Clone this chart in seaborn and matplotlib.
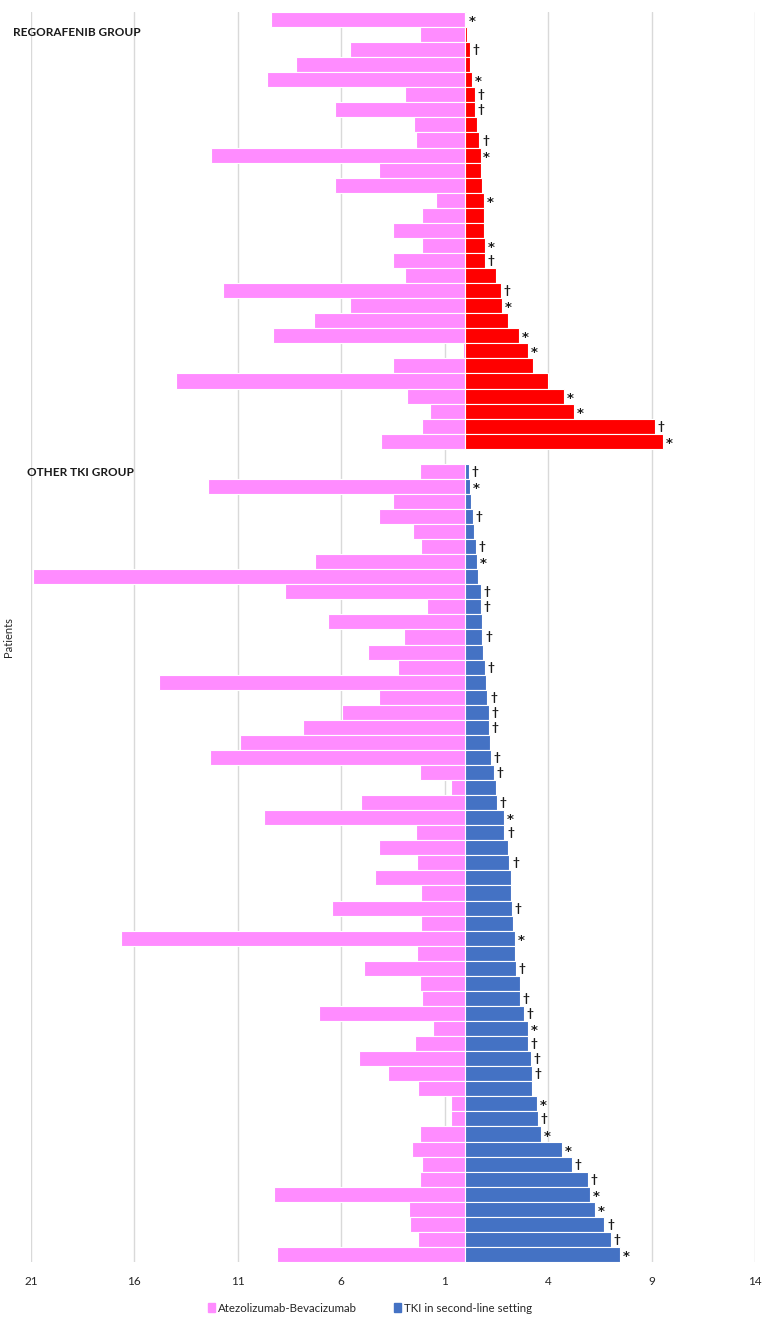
import matplotlib
matplotlib.use('Agg')
import pandas as pd
import matplotlib.pyplot as plt
import seaborn as sns
from matplotlib.patches import Patch

# Months on each treatment (one entry per patient, top to bottom)
rego_atezo = [9.4, 2.2, 5.6, 8.2, 9.6, 2.9, 6.3, 2.5, 2.4, 12.3, 4.2, 6.3, 1.4, 2.1, 3.5,
              2.1, 3.5, 2.9, 11.7, 5.6, 7.3, 9.3, 0.1, 3.5, 14.0, 2.8, 1.7, 2.1, 4.1]
rego_tki = [0.03, 0.1, 0.23, 0.23, 0.32, 0.44, 0.47, 0.58, 0.68, 0.73, 0.73, 0.8, 0.92, 0.92, 0.92,
            0.94, 0.94, 1.48, 1.72, 1.79, 2.05, 2.6, 3.02, 3.28, 3.97, 4.75, 5.27, 9.15, 9.53]
rego_mark = ['*', '', '†', '', '*', '†', '†', '', '†', '*', '', '', '*', '', '',
             '*', '†', '', '†', '*', '', '*', '*', '', '', '*', '*', '†', '*']

other_atezo = [2.2, 12.45, 3.5, 4.2, 2.55, 2.15, 7.25, 20.9, 8.7, 1.85, 6.65, 2.95, 4.7, 3.25,
               14.8, 4.2, 5.95, 7.85, 10.9, 12.35, 2.2, 0.7, 5.05, 9.75, 2.4, 4.2, 2.35, 4.35,
               2.15, 6.45, 2.15, 16.65, 2.35, 4.9, 2.2, 2.1, 7.1, 1.55, 2.45, 5.15, 3.75, 2.3,
               0.7, 0.7, 2.2, 2.6, 2.1, 2.2, 9.25, 2.75, 2.7, 2.3, 9.1]
other_tki = [0.16, 0.21, 0.28, 0.37, 0.4, 0.51, 0.54, 0.63, 0.73, 0.75, 0.78, 0.82, 0.87, 0.94,
             0.99, 1.06, 1.15, 1.15, 1.2, 1.22, 1.39, 1.46, 1.53, 1.89, 1.89, 2.05, 2.12, 2.2,
             2.2, 2.24, 2.31, 2.38, 2.41, 2.45, 2.64, 2.64, 2.83, 3.02, 3.02, 3.16, 3.21, 3.21,
             3.45, 3.5, 3.64, 4.66, 5.15, 5.93, 6.0, 6.27, 6.72, 7.05, 7.45]
other_mark = ['†', '*', '', '†', '', '†', '*', '', '†', '†', '', '†', '', '†',
              '', '†', '†', '†', '', '†', '†', '', '†', '*', '†', '', '†', '',
              '', '†', '', '*', '', '†', '', '†', '†', '*', '†', '†', '†', '',
              '*', '†', '*', '*', '†', '†', '*', '*', '†', '†', '*']

xticks = [-21, -16, -11, -6, -1, 4, 9, 14]

PINK = '#FF8CFF'
RED = '#FF0000'
BLUE = '#4472C4'

rego_ids = [f'R{i}' for i in range(len(rego_tki))]
other_ids = [f'O{i}' for i in range(len(other_tki))]
order = rego_ids + ['gap'] + other_ids

df = pd.DataFrame({
    'patient': rego_ids + other_ids,
    'atezo': [-v for v in rego_atezo + other_atezo],
    'tki': rego_tki + other_tki,
    'group': ['Regorafenib'] * len(rego_ids) + ['Other TKI'] * len(other_ids),
    'mark': rego_mark + other_mark,
})

sns.set_style('white')
plt.rcParams['font.family'] = ['Lato', 'DejaVu Sans']

fig = plt.figure(figsize=(7.69, 13.22), dpi=100)
ax = fig.add_axes([31 / 769, 1 - 1262 / 1322, 724 / 769, 1250 / 1322])

# Atezolizumab-Bevacizumab bars (left side)
sns.barplot(data=df, x='atezo', y='patient', order=order, color=PINK, saturation=1,
            width=1, edgecolor='white', linewidth=0.8, errorbar=None, orient='h', ax=ax)
# second-line TKI bars (right side)
sns.barplot(data=df, x='tki', y='patient', order=order, hue='group',
            palette={'Regorafenib': RED, 'Other TKI': BLUE}, dodge=False, saturation=1,
            width=1, edgecolor='white', linewidth=0.8, errorbar=None, orient='h',
            legend=False, ax=ax)

# markers after the TKI bars
for _, row in df.iterrows():
    if row['mark'] == '*':
        ax.annotate('*', xy=(row['tki'], order.index(row['patient'])),
                    xytext=(2, -1.5), textcoords='offset points', ha='left', va='center',
                    fontsize=9.5, fontweight='bold', family='DejaVu Sans', color='#1a1a1a')
    elif row['mark']:
        ax.annotate(row['mark'], xy=(row['tki'], order.index(row['patient'])),
                    xytext=(2, 0), textcoords='offset points', ha='left', va='center',
                    fontsize=8.5, fontweight='bold', color='#1a1a1a')

ax.set_xlim(-21, 14)
ax.set_ylim(len(order) - 0.5, -0.5)
ax.set_xticks(xticks)
ax.set_xticklabels([str(abs(t)) for t in xticks], fontsize=8.5, color='#262626')
ax.set_yticks([])
ax.xaxis.grid(True, color='#D9D9D9', linewidth=1)
ax.set_axisbelow(True)
for s in ax.spines.values():
    s.set_visible(False)
ax.tick_params(axis='x', length=0, pad=10)
ax.set_xlabel('')
ax.set_ylabel('Patients', fontsize=8, color='#262626')
ax.yaxis.set_label_coords(-0.024, 0.5)

fig.text(13 / 769, 1 - 32 / 1322, 'REGORAFENIB GROUP', fontsize=8.5, fontweight='bold',
         va='center', color='#1a1a1a')
fig.text(27 / 769, 1 - 473 / 1322, 'OTHER TKI GROUP', fontsize=8.5, fontweight='bold',
         va='center', color='#1a1a1a')

handles = [Patch(color=PINK), Patch(color=BLUE)]
fig.legend(handles, ['Atezolizumab-Bevacizumab', 'TKI in second-line setting'],
           loc='center', bbox_to_anchor=(370 / 769, 1 - 1308 / 1322), ncol=2, frameon=False,
           fontsize=8.3, handlelength=0.6, handleheight=0.9, handletextpad=0.3,
           columnspacing=3.2, labelcolor='#262626')

fig.savefig('out.png', dpi=100)
